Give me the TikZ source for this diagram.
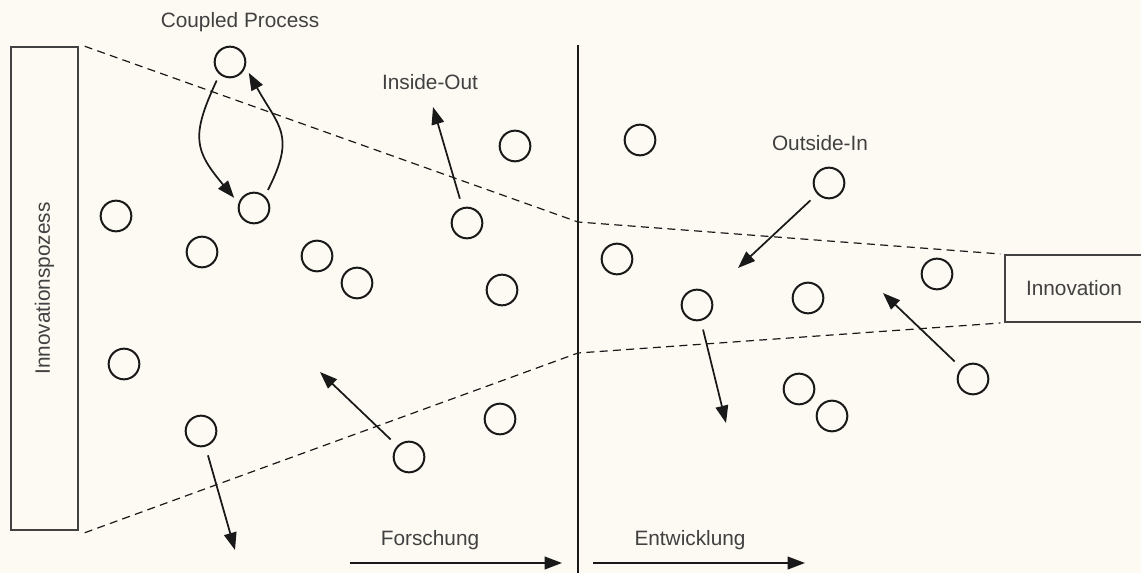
\documentclass[tikz,border=0pt]{standalone}
\usepackage{fontspec}
\setmainfont{Liberation Sans}
\usetikzlibrary{arrows.meta}
\definecolor{paper}{RGB}{253,250,243}
\definecolor{ink}{RGB}{25,25,25}
\definecolor{txt}{RGB}{65,65,65}
\tikzset{every picture/.style={line width=0.75pt}}

\begin{document}
\begin{tikzpicture}[x=0.75pt,y=0.75pt,yscale=-1,xscale=1,
  idea/.style={draw=ink,circle,line width=1.5pt,minimum size=23pt,inner sep=0pt},
  flow/.style={draw=ink,line width=1.3pt,-{Triangle[length=13pt,width=9.5pt]}},
  lbl/.style={text=txt,font=\fontsize{15.6}{18}\selectfont},
  stage/.style={draw=txt,line width=1.1pt,inner sep=0pt,text=txt,font=\fontsize{15.6}{18}\selectfont},
  funnel/.style={draw=ink,line width=0.9pt,dash pattern=on 6pt off 4pt}]

%background and page size
\fill[paper] (0,0) rectangle (1141,573);
\useasboundingbox (0,0) rectangle (1141,573);

%Shape: Rectangle (start of the process)
\node[stage,minimum width=50.25pt,minimum height=362.25pt] (lbox) at (44.5,288.5) {\rotatebox{90}{Innovationspozess}};
%Shape: Rectangle (result)
\node[stage,minimum width=103.5pt,minimum height=50.25pt] (rbox) at (1074,288.5) {Innovation\hspace{7.5pt}};

%Circles
\foreach \n/\x/\y in {1/230/62, 2/254/208, 3/116/216, 4/202/252, 5/317/256, 6/357/283,
    7/515/146, 8/467/223, 9/640/140, 10/617/259, 11/502/290, 12/829/183,
    13/697/305, 14/808/298, 15/937/274, 16/973/379, 17/799/389, 18/832/416,
    19/124/364, 20/201/431, 21/500/419, 22/409/457}
  \node[idea] (c\n) at (\x,\y) {};

%Divider
\coordinate (divT) at (578,45);
\coordinate (divB) at (578,575);
\draw[ink,line width=1.3pt] (divT) -- (divB);

%Funnel
\coordinate (kU) at (578,222);
\coordinate (kL) at (578,353);
\draw[funnel,shorten >=3pt] ([xshift=4.5pt]lbox.north east) -- (kU) -- (rbox.north west);
\draw[funnel,shorten >=3pt] ([xshift=4.5pt,yshift=1.5pt]lbox.south east) -- (kL) -- (rbox.south west);

%Coupled process
\draw[flow,shorten <=5pt,shorten >=5pt] (c1.-130) to[out=115,in=-130,looseness=1.35] (c2.162);
\draw[flow,shorten <=5pt,shorten >=5pt] (c2.48) to[out=-63,in=61,looseness=1.35] (c1.-18);

%Free arrows
\coordinate (t8) at (433,107);
\coordinate (t12) at (738,268);
\coordinate (t13) at (726,423);
\coordinate (t16) at (883,293);
\coordinate (t20) at (235,550);
\coordinate (t22) at (320,372);
\foreach \n in {8,12,13,16,20,22}
  \draw[flow,shorten <=6.75pt] (c\n) -- (t\n);

%Phases
\coordinate (fA) at (350,563);
\coordinate (fB) at (562,563);
\coordinate (eA) at (593,563);
\coordinate (eB) at (805,563);
\draw[flow] (fA) -- (fB);
\draw[flow] (eA) -- (eB);

% Text Node
\node[lbl] (tCP) at (240,22) {Coupled Process};
% Text Node
\node[lbl] (tIO) at (430,82) {Inside-Out};
% Text Node
\node[lbl] (tOI) at (820,143) {Outside-In};
% Text Node
\node[lbl] (tF) at (430,540) {Forschung};
% Text Node
\node[lbl] (tE) at (690,540) {Entwicklung};

\end{tikzpicture}
\end{document}
